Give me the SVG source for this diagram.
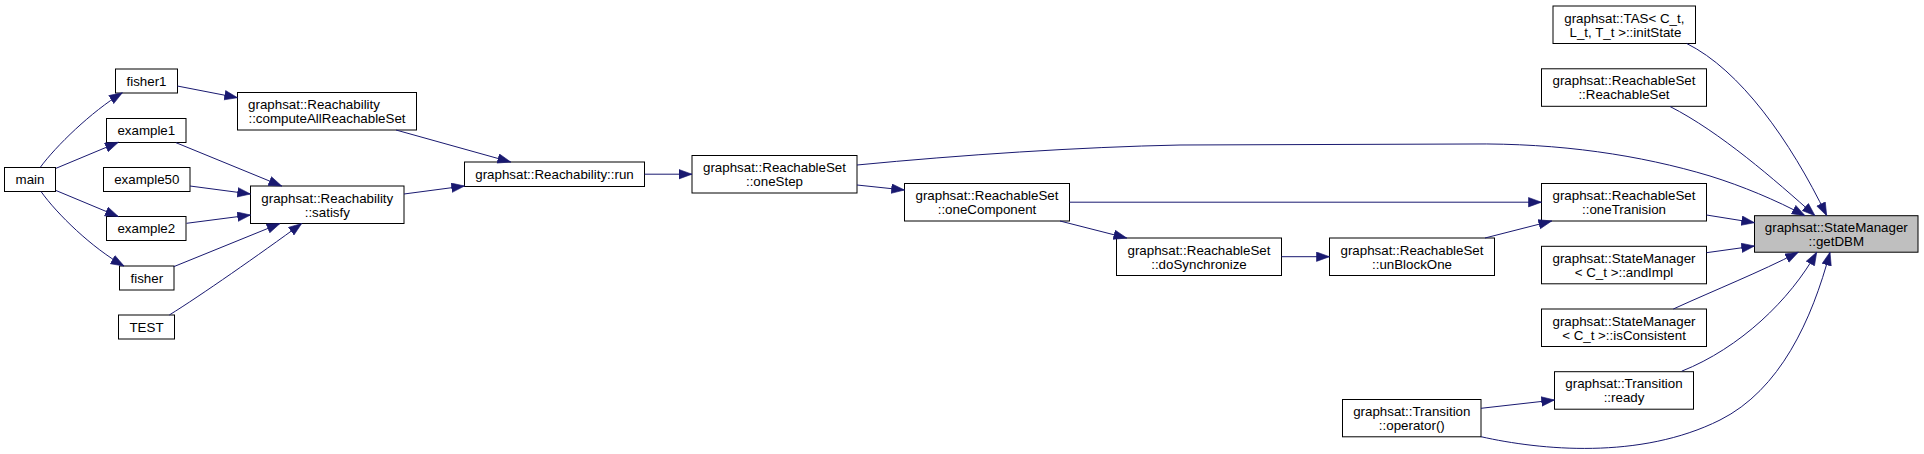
<svg xmlns="http://www.w3.org/2000/svg" width="1924" height="454" viewBox="0 0 1924 454">
<style>
.node rect{fill:#ffffff;stroke:#000000;stroke-width:1}
.node.hl rect{fill:#bfbfbf}
.node text{font-family:"Liberation Sans",Arial,Helvetica,sans-serif;font-size:13.33px;fill:#000000;text-anchor:middle}
.edge{fill:none;stroke:#191970;stroke-width:1;marker-end:url(#arr)}
</style>
<defs>
<marker id="arr" markerUnits="userSpaceOnUse" markerWidth="15" markerHeight="11" refX="13.3" refY="5" orient="auto">
<path d="M0.3,0.3 L13.3,5 L0.3,9.7 Z" fill="#191970" stroke="#191970" stroke-width="0.6"/>
</marker>
</defs>
<rect x="0" y="0" width="1924" height="454" fill="#ffffff"/>

<g id="nodes">
<g id="main" class="node"><rect x="4.5" y="167.5" width="51" height="24"/><text x="30" y="184">main</text></g>
<g id="fisher1" class="node"><rect x="115.5" y="69" width="62" height="24"/><text x="146.5" y="85.5">fisher1</text></g>
<g id="computeAllReachableSet" class="node"><rect x="237.5" y="92.5" width="179" height="37.5"/><text x="314" y="109">graphsat::Reachability</text><text x="327" y="123">::computeAllReachableSet</text></g>
<g id="example1" class="node"><rect x="106.5" y="118.5" width="79.5" height="24"/><text x="146.3" y="135">example1</text></g>
<g id="example50" class="node"><rect x="103.5" y="167.5" width="86.5" height="24"/><text x="146.8" y="184">example50</text></g>
<g id="satisfy" class="node"><rect x="250.5" y="186" width="153.5" height="37.5"/><text x="327.3" y="202.5">graphsat::Reachability</text><text x="327.3" y="216.5">::satisfy</text></g>
<g id="example2" class="node"><rect x="106.5" y="216.5" width="79.5" height="24"/><text x="146.3" y="233">example2</text></g>
<g id="fisher" class="node"><rect x="119.5" y="266" width="54.5" height="24"/><text x="146.8" y="282.5">fisher</text></g>
<g id="TEST" class="node"><rect x="118.5" y="315" width="56" height="24"/><text x="146.5" y="331.5">TEST</text></g>
<g id="run" class="node"><rect x="464.5" y="162" width="180" height="24.5"/><text x="554.5" y="178.7">graphsat::Reachability::run</text></g>
<g id="oneStep" class="node"><rect x="692" y="155.5" width="165" height="37.5"/><text x="774.5" y="172">graphsat::ReachableSet</text><text x="774.5" y="186">::oneStep</text></g>
<g id="oneComponent" class="node"><rect x="904.5" y="183.5" width="165" height="37.5"/><text x="987" y="200">graphsat::ReachableSet</text><text x="987" y="214">::oneComponent</text></g>
<g id="doSynchronize" class="node"><rect x="1116.5" y="238" width="165" height="37.5"/><text x="1199" y="254.5">graphsat::ReachableSet</text><text x="1199" y="268.5">::doSynchronize</text></g>
<g id="unBlockOne" class="node"><rect x="1329.5" y="238" width="165" height="37.5"/><text x="1412" y="254.5">graphsat::ReachableSet</text><text x="1412" y="268.5">::unBlockOne</text></g>
<g id="initState" class="node"><rect x="1553" y="6" width="142.5" height="37.5"/><text x="1624.3" y="22.5">graphsat::TAS&lt; C_t,</text><text x="1625.5" y="36.5">L_t, T_t &gt;::initState</text></g>
<g id="ReachableSet" class="node"><rect x="1541.5" y="68.8" width="165" height="37.5"/><text x="1624" y="85.3">graphsat::ReachableSet</text><text x="1624" y="99.3">::ReachableSet</text></g>
<g id="oneTranision" class="node"><rect x="1541.5" y="183.5" width="165" height="37.5"/><text x="1624" y="200">graphsat::ReachableSet</text><text x="1624" y="214">::oneTranision</text></g>
<g id="andImpl" class="node"><rect x="1541.5" y="246.3" width="165" height="37.5"/><text x="1624" y="262.8">graphsat::StateManager</text><text x="1624" y="276.8">&lt; C_t &gt;::andImpl</text></g>
<g id="isConsistent" class="node"><rect x="1541.5" y="309" width="165" height="37.5"/><text x="1624" y="325.5">graphsat::StateManager</text><text x="1624" y="339.5">&lt; C_t &gt;::isConsistent</text></g>
<g id="ready" class="node"><rect x="1554.5" y="371.7" width="139" height="37.5"/><text x="1624" y="388.2">graphsat::Transition</text><text x="1624" y="402.2">::ready</text></g>
<g id="operator" class="node"><rect x="1342.5" y="399.5" width="138.5" height="37.3"/><text x="1411.8" y="416">graphsat::Transition</text><text x="1411.8" y="430">::operator()</text></g>
<g id="getDBM" class="node hl"><rect x="1754.5" y="215.7" width="163.5" height="36.5"/><text x="1836.3" y="231.8">graphsat::StateManager</text><text x="1836.3" y="245.8">::getDBM</text></g>
</g>

<g id="connectors">
<path class="edge" d="M40.3,167.3 C56,146 91,112 122.3,92.8"/>
<path class="edge" d="M56,168.3 L118.3,142.3"/>
<path class="edge" d="M56,190.5 L118.3,216.5"/>
<path class="edge" d="M41,191.5 C57,214 92,248 124,266"/>
<path class="edge" d="M177.3,86 L237.5,97.7"/>
<path class="edge" d="M176,142.7 L281.7,186"/>
<path class="edge" d="M190,186 L250.5,194"/>
<path class="edge" d="M186.5,223.3 L250.5,215"/>
<path class="edge" d="M173.7,266.7 L280,223.5"/>
<path class="edge" d="M169.3,315 C200,296 260,254 301.7,223.5"/>
<path class="edge" d="M396,130 L510.7,162"/>
<path class="edge" d="M404,194 L464.5,186"/>
<path class="edge" d="M644.5,174.2 L692,174.2"/>
<path class="edge" d="M857,165 C960,155 1080,147 1180,145 L1470,144 C1560,143 1640,155 1710,176 C1742,186 1776,200 1805,215.7"/>
<path class="edge" d="M857,185 L904.5,190"/>
<path class="edge" d="M1069.5,202.2 L1541.5,202.2"/>
<path class="edge" d="M1060,221 L1126.7,238"/>
<path class="edge" d="M1281.5,256.7 L1329.5,256.7"/>
<path class="edge" d="M1485,238 L1551.7,221"/>
<path class="edge" d="M1686.7,43.5 C1740,70 1790,140 1826.7,215.7"/>
<path class="edge" d="M1670,106.5 C1720,132 1775,180 1815,215.7"/>
<path class="edge" d="M1706.5,215 L1754.5,222.7"/>
<path class="edge" d="M1706.5,252.7 L1754.5,246"/>
<path class="edge" d="M1673.3,309 C1715,290 1760,272 1798.3,252.2"/>
<path class="edge" d="M1681.7,371.2 C1740,348 1790,300 1816.7,252.2"/>
<path class="edge" d="M1481,408.3 L1554.5,400"/>
<path class="edge" d="M1481,436.7 C1540,450 1640,460 1720,420 C1780,390 1812,320 1830,252.2"/>
</g>
</svg>
